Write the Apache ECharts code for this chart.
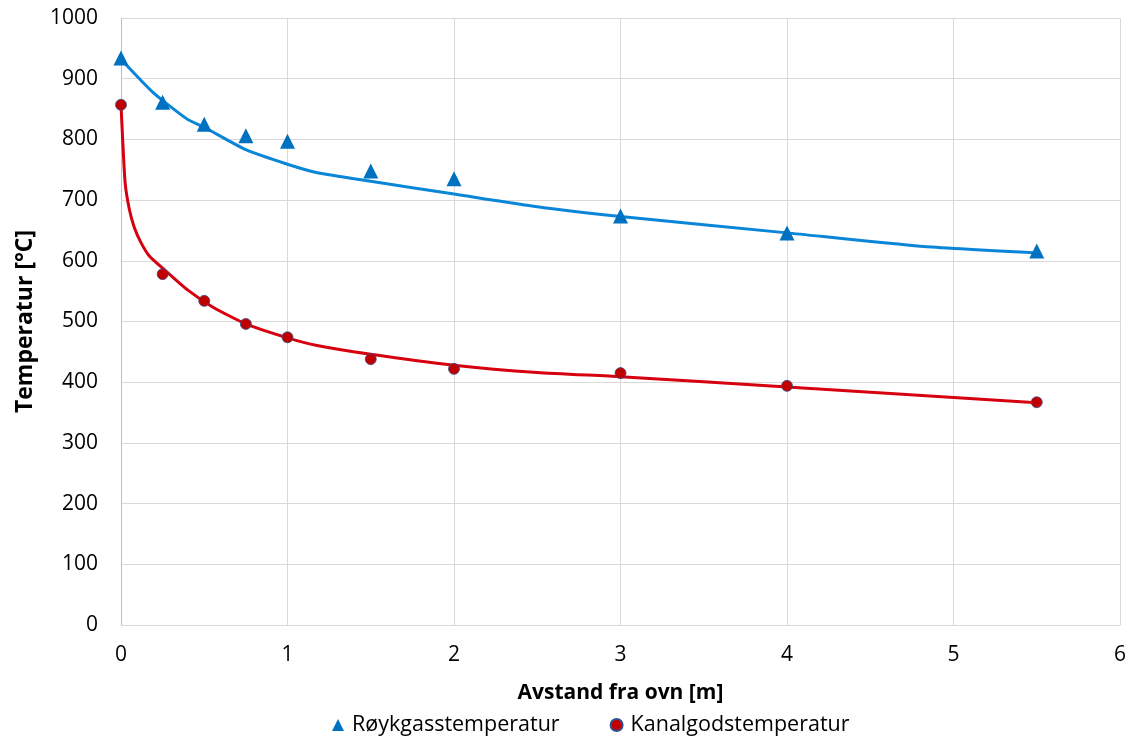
<!DOCTYPE html>
<html>
<head>
<meta charset="utf-8">
<script src="https://cdn.jsdelivr.net/npm/echarts@6/dist/echarts.min.js"></script>
<style>
html,body{margin:0;padding:0;background:#fff;}
#chart{width:1134px;height:744px;}
</style>
</head>
<body>
<div id="chart"></div>
<script>
// Measured points
const measX = [0, 0.25, 0.5, 0.75, 1, 1.5, 2, 3, 4, 5.5];
const roykgass = [934, 861, 825, 806, 797, 748, 735, 674, 646, 616];
const kanalgods = [857, 578, 534, 496, 474, 438, 422, 415, 394, 367];

// Model curves
const roykCurveX = [0, 0.19, 0.4, 0.5, 0.75, 1, 1.18, 1.5, 2, 2.5, 3, 4, 4.8, 5.5];
const roykCurveY = [932, 878, 833, 820, 783, 759, 745, 731, 710, 689, 673, 646, 624, 613];
const kanalCurveX = [0, 0.01, 0.025, 0.05, 0.08, 0.12, 0.17, 0.25, 0.4, 0.55, 0.75, 1, 1.17, 1.5, 2, 2.5, 3, 4, 5.5];
const kanalCurveY = [857, 800, 728, 685, 655, 630, 608, 588, 552, 524, 496, 473, 461, 446, 428, 416, 409, 392, 366];

const xTicks = [0, 1, 2, 3, 4, 5, 6];
const yTicks = [0, 100, 200, 300, 400, 500, 600, 700, 800, 900, 1000];

const zip = (xs, ys) => xs.map((x, i) => [x, ys[i]]);
const FONT = '"Open Sans", "Liberation Sans", sans-serif';

const chart = echarts.init(document.getElementById('chart'), null, {renderer: 'canvas'});
chart.setOption({
  animation: false,
  backgroundColor: '#ffffff',
  textStyle: {fontFamily: FONT},
  grid: {left: 121, right: 14, top: 18, bottom: 119, containLabel: false},
  legend: {
    data: ['Røykgasstemperatur', 'Kanalgodstemperatur'],
    bottom: 3,
    left: 327,
    itemGap: 50,
    itemWidth: 12,
    itemHeight: 12,
    textStyle: {fontFamily: FONT, fontSize: 21.5, color: '#000', padding: [0, 0, 0, 3]}
  },
  xAxis: {
    type: 'value',
    min: xTicks[0],
    max: xTicks[xTicks.length - 1],
    interval: 1,
    name: 'Avstand fra ovn [m]',
    nameLocation: 'middle',
    nameGap: 58,
    nameTextStyle: {fontFamily: FONT, fontSize: 21, fontWeight: 'bold', color: '#000'},
    axisLine: {show: true, lineStyle: {color: '#d9d9d9', width: 1}},
    axisTick: {show: false},
    axisLabel: {fontFamily: FONT, fontSize: 21, color: '#000', margin: 20},
    splitLine: {show: true, lineStyle: {color: '#d9d9d9', width: 1}}
  },
  yAxis: {
    type: 'value',
    min: yTicks[0],
    max: yTicks[yTicks.length - 1],
    interval: 100,
    name: 'Temperatur [°C]',
    nameLocation: 'middle',
    nameGap: 84,
    nameRotate: 90,
    nameTextStyle: {fontFamily: FONT, fontSize: 23, fontWeight: 'bold', color: '#000'},
    axisLine: {show: true, lineStyle: {color: '#bfbfbf', width: 1}},
    axisTick: {show: false},
    axisLabel: {fontFamily: FONT, fontSize: 21, color: '#000', margin: 23, formatter: (v) => String(v)},
    splitLine: {show: true, lineStyle: {color: '#d9d9d9', width: 1}}
  },
  series: [
    {
      name: 'RøykgassCurve',
      type: 'line',
      data: zip(roykCurveX, roykCurveY),
      showSymbol: false,
      smooth: 0.2,
      lineStyle: {color: '#0a86d8', width: 3},
      z: 2
    },
    {
      name: 'KanalCurve',
      type: 'line',
      data: zip(kanalCurveX, kanalCurveY),
      showSymbol: false,
      smooth: 0.2,
      lineStyle: {color: '#d6000f', width: 3},
      z: 2
    },
    {
      name: 'Røykgasstemperatur',
      type: 'scatter',
      data: zip(measX, roykgass),
      symbol: 'triangle',
      symbolSize: 15,
      itemStyle: {color: '#0070c0', opacity: 1},
      z: 3
    },
    {
      name: 'Kanalgodstemperatur',
      type: 'scatter',
      data: zip(measX, kanalgods),
      symbol: 'circle',
      symbolSize: 11,
      itemStyle: {color: '#c00000', borderColor: '#34508c', borderWidth: 0.8, opacity: 1},
      z: 3
    }
  ]
});
</script>
</body>
</html>
